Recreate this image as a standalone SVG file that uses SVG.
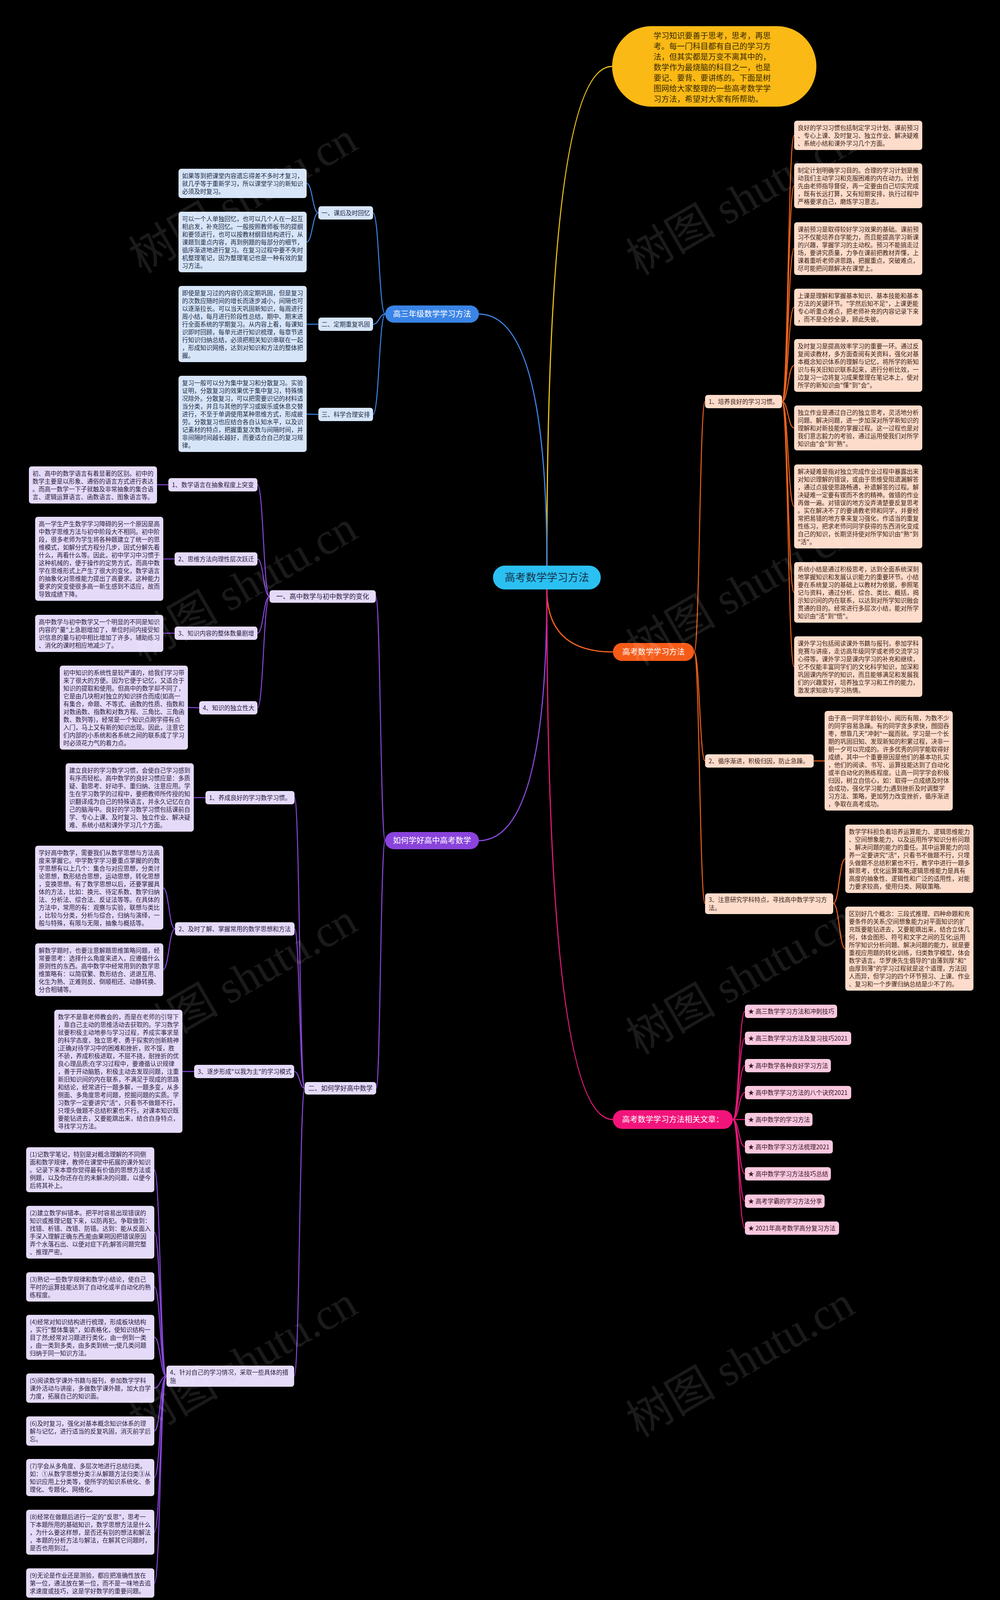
<svg xmlns="http://www.w3.org/2000/svg" width="2560" height="4158" viewBox="0 0 2560 4158">
<style>
text{font-family:"Noto Sans CJK SC","Noto Sans",sans-serif}
.lf{font-size:15.5px}
.sn{font-size:15.5px}
.tb{fill:#1d2b45}.tp{fill:#2b1d40}.to{fill:#3d2417}.tk{fill:#3b1629}
.rb{fill:#d7e5f9}.rp{fill:#e5dbf9}.ro{fill:#fddccb}.rk{fill:#f9c8df}
.cy{fill:none;stroke:#f2c51a;stroke-width:3}
.cb{fill:none;stroke:#3d86e6;stroke-width:2.5}
.cp{fill:none;stroke:#8a48dc;stroke-width:2.5}
.co{fill:none;stroke:#f0641e;stroke-width:2.5}
.ck{fill:none;stroke:#e8197a;stroke-width:2.5}
.main{stroke-width:3}
.br{font-size:20px;fill:#ffffff;text-anchor:middle}
.wm{font-family:"Liberation Serif","Noto Sans CJK SC",serif;font-size:115px;fill:#ffffff;opacity:0.1;text-anchor:middle}
</style>
<rect x="0" y="0" width="2560" height="4158" fill="#000000"/>

<g id="connectors">
<path class="cy main" d="M1400,1448 Q1400,170 1567,170"/>
<path class="cb main" d="M1400,1448 Q1400,804 1226,804"/>
<path class="co main" d="M1400,1509 Q1400,1669 1569,1669"/>
<path class="cp main" d="M1400,1509 Q1400,2152 1226,2152"/>
<path class="ck main" d="M1400,1509 Q1400,2866 1569,2866"/>
<!-- blue -->
<path class="cb" d="M986,804 C970.5,804 970.5,545 955,545"/>
<path class="cb" d="M986,804 C970.5,804 970.5,830 955,830"/>
<path class="cb" d="M986,804 C970.5,804 970.5,1061 955,1061"/>
<path class="cb" d="M815,545 C800,545 800,469.5 785,469.5"/>
<path class="cb" d="M815,545 C800,545 800,619.5 785,619.5"/>
<path class="cb" d="M815,830 L785,830"/>
<path class="cb" d="M815,1061 L785,1060"/>
<!-- purple -->
<path class="cp" d="M986,2152 C974,2152 974,1527 962,1527"/>
<path class="cp" d="M986,2152 C974,2152 974,2786 963,2786"/>
<path class="cp" d="M690,1527 C674.5,1527 674.5,1241 659,1241"/>
<path class="cp" d="M690,1527 C674.5,1527 674.5,1431 659,1431"/>
<path class="cp" d="M690,1527 C674.5,1527 674.5,1621 659,1621"/>
<path class="cp" d="M690,1527 C674.5,1527 674.5,1812 659,1812"/>
<path class="cp" d="M431,1241 L402,1241"/>
<path class="cp" d="M447,1431 L418,1431"/>
<path class="cp" d="M447,1621 L418,1621"/>
<path class="cp" d="M510,1812 L481,1811"/>
<path class="cp" d="M780,2786 C767,2786 767,2042 754,2042"/>
<path class="cp" d="M780,2786 C767,2786 767,2378 754,2378"/>
<path class="cp" d="M780,2786 C767,2786 767,2743 753,2743"/>
<path class="cp" d="M780,2786 C767,2786 767,3523 753,3523"/>
<path class="cp" d="M526,2042 L495,2042"/>
<path class="cp" d="M448,2378 C432.5,2378 432.5,2272.5 417,2272.5"/>
<path class="cp" d="M448,2378 C432.5,2378 432.5,2482.5 417,2482.5"/>
<path class="cp" d="M497,2743 L467,2743"/>
<path class="cp" d="M426,3523 C410.5,3523 410.5,2994.5 395,2994.5"/>
<path class="cp" d="M426,3523 C410.5,3523 410.5,3154.5 395,3154.5"/>
<path class="cp" d="M426,3523 C410.5,3523 410.5,3294.5 395,3294.5"/>
<path class="cp" d="M426,3523 C410.5,3523 410.5,3423.5 395,3423.5"/>
<path class="cp" d="M426,3523 C410.5,3523 410.5,3553.5 395,3553.5"/>
<path class="cp" d="M426,3523 C410.5,3523 410.5,3663.5 395,3663.5"/>
<path class="cp" d="M426,3523 C410.5,3523 410.5,3782.5 395,3782.5"/>
<path class="cp" d="M426,3523 C410.5,3523 410.5,3922.5 395,3922.5"/>
<path class="cp" d="M426,3523 C410.5,3523 410.5,4052.5 395,4052.5"/>
<!-- orange -->
<path class="co" d="M1777,1669 C1791,1669 1791,1028 1805,1028"/>
<path class="co" d="M1777,1669 C1791,1669 1791,1948 1805,1948"/>
<path class="co" d="M1777,1669 C1791,1669 1791,2313 1805,2313"/>
<path class="co" d="M2002,1028 C2017.5,1028 2017.5,346.5 2033,346.5"/>
<path class="co" d="M2002,1028 C2017.5,1028 2017.5,475.5 2033,475.5"/>
<path class="co" d="M2002,1028 C2017.5,1028 2017.5,636.5 2033,636.5"/>
<path class="co" d="M2002,1028 C2017.5,1028 2017.5,786.5 2033,786.5"/>
<path class="co" d="M2002,1028 C2017.5,1028 2017.5,935.5 2033,935.5"/>
<path class="co" d="M2002,1028 C2017.5,1028 2017.5,1095.5 2033,1095.5"/>
<path class="co" d="M2002,1028 C2017.5,1028 2017.5,1296.5 2033,1296.5"/>
<path class="co" d="M2002,1028 C2017.5,1028 2017.5,1516.5 2033,1516.5"/>
<path class="co" d="M2002,1028 C2017.5,1028 2017.5,1706.5 2033,1706.5"/>
<path class="co" d="M2083,1948 L2111,1948"/>
<path class="co" d="M2133,2313 C2148.5,2313 2148.5,2198.5 2164,2198.5"/>
<path class="co" d="M2133,2313 C2148.5,2313 2148.5,2428.5 2164,2428.5"/>
<!-- pink -->
<path class="ck" d="M1876,2866 C1891.5,2866 1891.5,2589 1907,2589"/>
<path class="ck" d="M1876,2866 C1891.5,2866 1891.5,2658 1907,2658"/>
<path class="ck" d="M1876,2866 C1891.5,2866 1891.5,2728 1907,2728"/>
<path class="ck" d="M1876,2866 C1891.5,2866 1891.5,2797 1907,2797"/>
<path class="ck" d="M1876,2866 L1907,2866"/>
<path class="ck" d="M1876,2866 C1891.5,2866 1891.5,2936 1907,2936"/>
<path class="ck" d="M1876,2866 C1891.5,2866 1891.5,3005 1907,3005"/>
<path class="ck" d="M1876,2866 C1891.5,2866 1891.5,3075 1907,3075"/>
<path class="ck" d="M1876,2866 C1891.5,2866 1891.5,3144 1907,3144"/>
</g>

<!-- callout -->
<g id="callout">
<rect x="1567" y="67" width="523" height="206" rx="100" ry="103" fill="#fbb915"/>
<text x="1673" y="99" font-size="20" fill="#3a2c00">
<tspan x="1673" y="99">学习知识要善于思考，思考，再思</tspan>
<tspan x="1673" y="126">考。每一门科目都有自己的学习方</tspan>
<tspan x="1673" y="153">法，但其实都是万变不离其中的，</tspan>
<tspan x="1673" y="180">数学作为最烧脑的科目之一，也是</tspan>
<tspan x="1673" y="207">要记、要背、要讲练的。下面是树</tspan>
<tspan x="1673" y="234">图网给大家整理的一些高考数学学</tspan>
<tspan x="1673" y="261">习方法，希望对大家有所帮助。</tspan>
</text>
</g>

<!-- main node -->
<g id="root">
<rect x="1262" y="1448" width="276" height="61" rx="30.5" fill="#2bc0f2"/>
<text x="1400" y="1488" font-size="27" fill="#17324a" text-anchor="middle">高考数学学习方法</text>
</g>

<!-- branch nodes -->
<g id="n-blue">
<rect x="986" y="782" width="240" height="44" rx="22" fill="#3a84e6"/>
<text class="br" x="1106" y="811">高三年级数学学习方法</text>
</g>
<g id="n-purple">
<rect x="986" y="2130" width="240" height="44" rx="22" fill="#8a43dc"/>
<text class="br" x="1106" y="2159">如何学好高中高考数学</text>
</g>
<g id="n-orange">
<rect x="1569" y="1646" width="208" height="46" rx="23" fill="#f55b18"/>
<text class="br" x="1673" y="1676">高考数学学习方法</text>
</g>
<g id="n-pink">
<rect x="1569" y="2842" width="307" height="48" rx="24" fill="#f3147b"/>
<text class="br" x="1722.5" y="2873">高考数学学习方法相关文章：</text>
</g>

<!-- blue sub nodes -->
<g id="b-s1"><rect class="rb" x="815" y="528" width="140" height="34" rx="7"/><text class="sn tb" x="885" y="550.5" text-anchor="middle">一、课后及时回忆</text></g>
<g id="b-s2"><rect class="rb" x="815" y="813" width="140" height="34" rx="7"/><text class="sn tb" x="885" y="835.5" text-anchor="middle">二、定期重复巩固</text></g>
<g id="b-s3"><rect class="rb" x="815" y="1044" width="140" height="34" rx="7"/><text class="sn tb" x="885" y="1066.5" text-anchor="middle">三、科学合理安排</text></g>

<g id="b-l1"><rect class="rb" x="457" y="432" width="328" height="75" rx="7"/>
<text class="lf tb"><tspan x="466" y="456">如果等到把课堂内容遗忘得差不多时才复习，</tspan><tspan x="466" y="476">就几乎等于重新学习，所以课堂学习的新知识</tspan><tspan x="466" y="496">必须及时复习。</tspan></text></g>
<g id="b-l2"><rect class="rb" x="457" y="542" width="328" height="155" rx="7"/>
<text class="lf tb"><tspan x="466" y="566">可以一个人单独回忆，也可以几个人在一起互</tspan><tspan x="466" y="586">相启发，补充回忆。一般按照教师板书的提纲</tspan><tspan x="466" y="606">和要领进行，也可以按教材纲目结构进行，从</tspan><tspan x="466" y="626">课题到重点内容，再到例题的每部分的细节，</tspan><tspan x="466" y="646">循序渐进地进行复习。在复习过程中要不失时</tspan><tspan x="466" y="666">机整理笔记，因为整理笔记也是一种有效的复</tspan><tspan x="466" y="686">习方法。</tspan></text></g>
<g id="b-l3"><rect class="rb" x="457" y="732" width="328" height="195" rx="7"/>
<text class="lf tb"><tspan x="466" y="756">即使是复习过的内容仍须定期巩固，但是复习</tspan><tspan x="466" y="776">的次数应随时间的增长而逐步减小，间隔也可</tspan><tspan x="466" y="796">以逐渐拉长。可以当天巩固新知识，每周进行</tspan><tspan x="466" y="816">周小结，每月进行阶段性总结，期中、期末进</tspan><tspan x="466" y="836">行全面系统的学期复习。从内容上看，每课知</tspan><tspan x="466" y="856">识即时回顾，每单元进行知识梳理，每章节进</tspan><tspan x="466" y="876">行知识归纳总结，必须把相关知识串联在一起</tspan><tspan x="466" y="896">，形成知识网络，达到对知识和方法的整体把</tspan><tspan x="466" y="916">握。</tspan></text></g>
<g id="b-l4"><rect class="rb" x="457" y="962" width="328" height="195" rx="7"/>
<text class="lf tb"><tspan x="466" y="986">复习一般可以分为集中复习和分散复习。实验</tspan><tspan x="466" y="1006">证明，分散复习的效果优于集中复习，特殊情</tspan><tspan x="466" y="1026">况除外。分散复习，可以把需要识记的材料适</tspan><tspan x="466" y="1046">当分类，并且与其他的学习或娱乐或休息交替</tspan><tspan x="466" y="1066">进行，不至于单调使用某种思维方式，形成疲</tspan><tspan x="466" y="1086">劳。分散复习也应结合各自认知水平，以及识</tspan><tspan x="466" y="1106">记素材的特点，把握重复次数与间隔时间，并</tspan><tspan x="466" y="1126">非间隔时间越长越好，而要适合自己的复习规</tspan><tspan x="466" y="1146">律。</tspan></text></g>

<!-- purple level 2 -->
<g id="p-s1"><rect class="rp" x="690" y="1511" width="272" height="32" rx="7"/><text class="tp" font-size="17" x="826" y="1533" text-anchor="middle">一、高中数学与初中数学的变化</text></g>
<g id="p-s2"><rect class="rp" x="780" y="2770" width="183" height="32" rx="7"/><text class="tp" font-size="16.5" x="871.5" y="2792" text-anchor="middle">二、如何学好高中数学</text></g>

<!-- purple level 3 -->
<g id="p-a1"><rect class="rp" x="431" y="1224" width="228" height="34" rx="7"/><text class="sn tp" x="440" y="1246.5">1、数学语言在抽象程度上突变</text></g>
<g id="p-a2"><rect class="rp" x="447" y="1414" width="212" height="34" rx="7"/><text class="sn tp" x="456" y="1436.5">2、思维方法向理性层次跃迁</text></g>
<g id="p-a3"><rect class="rp" x="447" y="1604" width="212" height="34" rx="7"/><text class="sn tp" x="456" y="1626.5">3、知识内容的整体数量剧增</text></g>
<g id="p-a4"><rect class="rp" x="510" y="1795" width="149" height="34" rx="7"/><text class="sn tp" x="519" y="1817.5">4、知识的独立性大</text></g>
<g id="p-b1"><rect class="rp" x="526" y="2025" width="228" height="34" rx="7"/><text class="sn tp" x="535" y="2047.5">1、养成良好的学习数学习惯。</text></g>
<g id="p-b2"><rect class="rp" x="448" y="2361" width="306" height="34" rx="7"/><text class="sn tp" x="457" y="2383.5">2、及时了解、掌握常用的数学思想和方法</text></g>
<g id="p-b3"><rect class="rp" x="497" y="2726" width="256" height="34" rx="7"/><text class="sn tp" x="506" y="2748.5">3、逐步形成"以我为主"的学习模式</text></g>
<g id="p-b4"><rect class="rp" x="426" y="3496" width="327" height="54" rx="7"/><text class="sn tp"><tspan x="435" y="3519">4、针对自己的学习情况，采取一些具体的措</tspan><tspan x="435" y="3540">施</tspan></text></g>

<!-- purple leaves -->
<g id="p-l1"><rect class="rp" x="74" y="1194" width="328" height="95" rx="7"/>
<text class="lf tp"><tspan x="83" y="1218">初、高中的数学语言有着显著的区别。初中的</tspan><tspan x="83" y="1238">数学主要是以形象、通俗的语言方式进行表达</tspan><tspan x="83" y="1258">。而高一数学一下子就触及非常抽象的集合语</tspan><tspan x="83" y="1278">言、逻辑运算语言、函数语言、图象语言等。</tspan></text></g>
<g id="p-l2"><rect class="rp" x="90" y="1323" width="328" height="215" rx="7"/>
<text class="lf tp"><tspan x="99" y="1347">高一学生产生数学学习障碍的另一个原因是高</tspan><tspan x="99" y="1367">中数学思维方法与初中阶段大不相同。初中阶</tspan><tspan x="99" y="1387">段，很多老师为学生将各种题建立了统一的思</tspan><tspan x="99" y="1407">维模式，如解分式方程分几步，因式分解先看</tspan><tspan x="99" y="1427">什么，再看什么等。因此，初中学习中习惯于</tspan><tspan x="99" y="1447">这种机械的，便于操作的定势方式，而高中数</tspan><tspan x="99" y="1467">学在思维形式上产生了很大的变化，数学语言</tspan><tspan x="99" y="1487">的抽象化对思维能力提出了高要求。这种能力</tspan><tspan x="99" y="1507">要求的突变使很多高一新生感到不适应，故而</tspan><tspan x="99" y="1527">导致成绩下降。</tspan></text></g>
<g id="p-l3"><rect class="rp" x="90" y="1574" width="328" height="95" rx="7"/>
<text class="lf tp"><tspan x="99" y="1598">高中数学与初中数学又一个明显的不同是知识</tspan><tspan x="99" y="1618">内容的"量"上急剧增加了，单位时间内接受知</tspan><tspan x="99" y="1638">识信息的量与初中相比增加了许多，辅助练习</tspan><tspan x="99" y="1658">、消化的课时相应地减少了。</tspan></text></g>
<g id="p-l4"><rect class="rp" x="153" y="1704" width="328" height="215" rx="7"/>
<text class="lf tp"><tspan x="162" y="1728">初中知识的系统性是较严谨的，给我们学习带</tspan><tspan x="162" y="1748">来了很大的方便。因为它便于记忆，又适合于</tspan><tspan x="162" y="1768">知识的提取和使用。但高中的数学却不同了，</tspan><tspan x="162" y="1788">它是由几块相对独立的知识拼合而成(如高一</tspan><tspan x="162" y="1808">有集合，命题、不等式、函数的性质、指数和</tspan><tspan x="162" y="1828">对数函数、指数和对数方程、三角比、三角函</tspan><tspan x="162" y="1848">数、数列等)，经常是一个知识点刚学得有点</tspan><tspan x="162" y="1868">入门，马上又有新的知识出现。因此，注意它</tspan><tspan x="162" y="1888">们内部的小系统和各系统之间的联系成了学习</tspan><tspan x="162" y="1908">时必须花力气的着力点。</tspan></text></g>

<g id="p-m1"><rect class="rp" x="168" y="1954" width="328" height="175" rx="7"/>
<text class="lf tp"><tspan x="177" y="1978">建立良好的学习数学习惯，会使自己学习感到</tspan><tspan x="177" y="1998">有序而轻松。高中数学的良好习惯应是：多质</tspan><tspan x="177" y="2018">疑、勤思考、好动手、重归纳、注意应用。学</tspan><tspan x="177" y="2038">生在学习数学的过程中，要把教师所传授的知</tspan><tspan x="177" y="2058">识翻译成为自己的特殊语言，并永久记忆在自</tspan><tspan x="177" y="2078">己的脑海中。良好的学习数学习惯包括课前自</tspan><tspan x="177" y="2098">学、专心上课、及时复习、独立作业、解决疑</tspan><tspan x="177" y="2118">难、系统小结和课外学习几个方面。</tspan></text></g>
<g id="p-m2"><rect class="rp" x="90" y="2165" width="328" height="215" rx="7"/>
<text class="lf tp"><tspan x="99" y="2189">学好高中数学，需要我们从数学思想与方法高</tspan><tspan x="99" y="2209">度来掌握它。中学数学学习要重点掌握的的数</tspan><tspan x="99" y="2229">学思想有以上几个：集合与对应思想，分类讨</tspan><tspan x="99" y="2249">论思想，数形结合思想，运动思想，转化思想</tspan><tspan x="99" y="2269">，变换思想。有了数学思想以后，还要掌握具</tspan><tspan x="99" y="2289">体的方法，比如：换元、待定系数、数学归纳</tspan><tspan x="99" y="2309">法、分析法、综合法、反证法等等。在具体的</tspan><tspan x="99" y="2329">方法中，常用的有：观察与实验，联想与类比</tspan><tspan x="99" y="2349">，比较与分类，分析与综合，归纳与演绎，一</tspan><tspan x="99" y="2369">般与特殊，有限与无限，抽象与概括等。</tspan></text></g>
<g id="p-m3"><rect class="rp" x="90" y="2415" width="328" height="135" rx="7"/>
<text class="lf tp"><tspan x="99" y="2439">解数学题时，也要注意解题思维策略问题，经</tspan><tspan x="99" y="2459">常要思考：选择什么角度来进入，应遵循什么</tspan><tspan x="99" y="2479">原则性的东西。高中数学中经常用到的数学思</tspan><tspan x="99" y="2499">维策略有：以简驭繁、数形结合、进退互用、</tspan><tspan x="99" y="2519">化生为熟、正难则反、倒顺相还、动静转换、</tspan><tspan x="99" y="2539">分合相辅等。</tspan></text></g>
<g id="p-m4"><rect class="rp" x="139" y="2585" width="328" height="315" rx="7"/>
<text class="lf tp"><tspan x="148" y="2609">数学不是靠老师教会的，而是在老师的引导下</tspan><tspan x="148" y="2629">，靠自己主动的思维活动去获取的。学习数学</tspan><tspan x="148" y="2649">就要积极主动地参与学习过程，养成实事求是</tspan><tspan x="148" y="2669">的科学态度，独立思考、勇于探索的创新精神</tspan><tspan x="148" y="2689">;正确对待学习中的困难和挫折，败不馁，胜</tspan><tspan x="148" y="2709">不骄，养成积极进取，不屈不挠，耐挫折的优</tspan><tspan x="148" y="2729">良心理品质;在学习过程中，要遵循认识规律</tspan><tspan x="148" y="2749">，善于开动脑筋，积极主动去发现问题，注重</tspan><tspan x="148" y="2769">新旧知识间的内在联系，不满足于现成的思路</tspan><tspan x="148" y="2789">和结论，经常进行一题多解，一题多变，从多</tspan><tspan x="148" y="2809">侧面、多角度思考问题，挖掘问题的实质。学</tspan><tspan x="148" y="2829">习数学一定要讲究"活"，只看书不做题不行，</tspan><tspan x="148" y="2849">只埋头做题不总结积累也不行。对课本知识既</tspan><tspan x="148" y="2869">要能钻进去，又要能跳出来，结合自身特点，</tspan><tspan x="148" y="2889">寻找学习方法。</tspan></text></g>

<g id="p-n1"><rect class="rp" x="67" y="2937" width="328" height="115" rx="7"/>
<text class="lf tp"><tspan x="76" y="2961">(1)记数学笔记，特别是对概念理解的不同侧</tspan><tspan x="76" y="2981">面和数学规律，教师在课堂中拓展的课外知识</tspan><tspan x="76" y="3001">。记录下来本章你觉得最有价值的思想方法或</tspan><tspan x="76" y="3021">例题，以及你还存在的未解决的问题，以便今</tspan><tspan x="76" y="3041">后将其补上。</tspan></text></g>
<g id="p-n2"><rect class="rp" x="67" y="3087" width="328" height="135" rx="7"/>
<text class="lf tp"><tspan x="76" y="3111">(2)建立数学纠错本。把平时容易出现错误的</tspan><tspan x="76" y="3131">知识或推理记载下来，以防再犯。争取做到：</tspan><tspan x="76" y="3151">找错、析错、改错、防错。达到：能从反面入</tspan><tspan x="76" y="3171">手深入理解正确东西;能由果朔因把错误原因</tspan><tspan x="76" y="3191">弄个水落石出、以便对症下药;解答问题完整</tspan><tspan x="76" y="3211">、推理严密。</tspan></text></g>
<g id="p-n3"><rect class="rp" x="67" y="3257" width="328" height="75" rx="7"/>
<text class="lf tp"><tspan x="76" y="3281">(3)熟记一些数学规律和数学小结论，使自己</tspan><tspan x="76" y="3301">平时的运算技能达到了自动化或半自动化的熟</tspan><tspan x="76" y="3321">练程度。</tspan></text></g>
<g id="p-n4"><rect class="rp" x="67" y="3366" width="328" height="115" rx="7"/>
<text class="lf tp"><tspan x="76" y="3390">(4)经常对知识结构进行梳理，形成板块结构</tspan><tspan x="76" y="3410">，实行"整体集装"，如表格化，使知识结构一</tspan><tspan x="76" y="3430">目了然;经常对习题进行类化，由一例到一类</tspan><tspan x="76" y="3450">，由一类到多类，由多类到统一;使几类问题</tspan><tspan x="76" y="3470">归纳于同一知识方法。</tspan></text></g>
<g id="p-n5"><rect class="rp" x="67" y="3516" width="328" height="75" rx="7"/>
<text class="lf tp"><tspan x="76" y="3540">(5)阅读数学课外书籍与报刊，参加数学学科</tspan><tspan x="76" y="3560">课外活动与讲座，多做数学课外题，加大自学</tspan><tspan x="76" y="3580">力度，拓展自己的知识面。</tspan></text></g>
<g id="p-n6"><rect class="rp" x="67" y="3626" width="328" height="75" rx="7"/>
<text class="lf tp"><tspan x="76" y="3650">(6)及时复习，强化对基本概念知识体系的理</tspan><tspan x="76" y="3670">解与记忆，进行适当的反复巩固，消灭前学后</tspan><tspan x="76" y="3690">忘。</tspan></text></g>
<g id="p-n7"><rect class="rp" x="67" y="3735" width="328" height="95" rx="7"/>
<text class="lf tp"><tspan x="76" y="3759">(7)学会从多角度、多层次地进行总结归类。</tspan><tspan x="76" y="3779">如：①从数学思想分类②从解题方法归类③从</tspan><tspan x="76" y="3799">知识应用上分类等，使所学的知识系统化、条</tspan><tspan x="76" y="3819">理化、专题化、网络化。</tspan></text></g>
<g id="p-n8"><rect class="rp" x="67" y="3865" width="328" height="115" rx="7"/>
<text class="lf tp"><tspan x="76" y="3889">(8)经常在做题后进行一定的"反思"，思考一</tspan><tspan x="76" y="3909">下本题所用的基础知识，数学思想方法是什么</tspan><tspan x="76" y="3929">，为什么要这样想，是否还有别的想法和解法</tspan><tspan x="76" y="3949">，本题的分析方法与解法，在解其它问题时，</tspan><tspan x="76" y="3969">是否也用到过。</tspan></text></g>
<g id="p-n9"><rect class="rp" x="67" y="4015" width="328" height="75" rx="7"/>
<text class="lf tp"><tspan x="76" y="4039">(9)无论是作业还是测验，都应把准确性放在</tspan><tspan x="76" y="4059">第一位，通法放在第一位，而不是一味地去追</tspan><tspan x="76" y="4079">求速度或技巧，这是学好数学的重要问题。</tspan></text></g>

<!-- orange level 2 -->
<g id="o-s1"><rect class="ro" x="1805" y="1011" width="197" height="34" rx="7"/><text class="sn to" x="1814" y="1033.5">1、培养良好的学习习惯。</text></g>
<g id="o-s2"><rect class="ro" x="1805" y="1931" width="278" height="34" rx="7"/><text class="sn to" x="1814" y="1953.5">2、循序渐进，积极归因，防止急躁。</text></g>
<g id="o-s3"><rect class="ro" x="1805" y="2287" width="328" height="53" rx="7"/><text class="sn to"><tspan x="1814" y="2309">3、注意研究学科特点，寻找高中数学学习方</tspan><tspan x="1814" y="2330">法。</tspan></text></g>

<!-- orange leaves -->
<g id="o-l1"><rect class="ro" x="2033" y="309" width="328" height="75" rx="7"/>
<text class="lf to"><tspan x="2042" y="333">良好的学习习惯包括制定学习计划、课前预习</tspan><tspan x="2042" y="353">、专心上课、及时复习、独立作业、解决疑难</tspan><tspan x="2042" y="373">、系统小结和课外学习几个方面。</tspan></text></g>
<g id="o-l2"><rect class="ro" x="2033" y="418" width="328" height="115" rx="7"/>
<text class="lf to"><tspan x="2042" y="442">制定计划明确学习目的。合理的学习计划是推</tspan><tspan x="2042" y="462">动我们主动学习和克服困难的内在动力。计划</tspan><tspan x="2042" y="482">先由老师指导督促，再一定要由自己切实完成</tspan><tspan x="2042" y="502">，既有长远打算，又有短期安排，执行过程中</tspan><tspan x="2042" y="522">严格要求自己，磨炼学习意志。</tspan></text></g>
<g id="o-l3"><rect class="ro" x="2033" y="569" width="328" height="135" rx="7"/>
<text class="lf to"><tspan x="2042" y="593">课前预习是取得较好学习效果的基础。课前预</tspan><tspan x="2042" y="613">习不仅能培养自学能力，而且能提高学习新课</tspan><tspan x="2042" y="633">的兴趣，掌握学习的主动权。预习不能搞走过</tspan><tspan x="2042" y="653">场，要讲究质量，力争在课前把教材弄懂，上</tspan><tspan x="2042" y="673">课着重听老师讲思路，把握重点，突破难点，</tspan><tspan x="2042" y="693">尽可能把问题解决在课堂上。</tspan></text></g>
<g id="o-l4"><rect class="ro" x="2033" y="739" width="328" height="95" rx="7"/>
<text class="lf to"><tspan x="2042" y="763">上课是理解和掌握基本知识、基本技能和基本</tspan><tspan x="2042" y="783">方法的关键环节。"学然后知不足"，上课更能</tspan><tspan x="2042" y="803">专心听重点难点，把老师补充的内容记录下来</tspan><tspan x="2042" y="823">，而不是全抄全录，顾此失彼。</tspan></text></g>
<g id="o-l5"><rect class="ro" x="2033" y="868" width="328" height="135" rx="7"/>
<text class="lf to"><tspan x="2042" y="892">及时复习是提高效率学习的重要一环。通过反</tspan><tspan x="2042" y="912">复阅读教材，多方面查阅有关资料，强化对基</tspan><tspan x="2042" y="932">本概念知识体系的理解与记忆，将所学的新知</tspan><tspan x="2042" y="952">识与有关旧知识联系起来，进行分析比效，一</tspan><tspan x="2042" y="972">边复习一边将复习成果整理在笔记本上，使对</tspan><tspan x="2042" y="992">所学的新知识由"懂"到"会"。</tspan></text></g>
<g id="o-l6"><rect class="ro" x="2033" y="1038" width="328" height="115" rx="7"/>
<text class="lf to"><tspan x="2042" y="1062">独立作业是通过自己的独立思考，灵活地分析</tspan><tspan x="2042" y="1082">问题、解决问题，进一步加深对所学新知识的</tspan><tspan x="2042" y="1102">理解和对新技能的掌握过程。这一过程也是对</tspan><tspan x="2042" y="1122">我们意志毅力的考验，通过运用使我们对所学</tspan><tspan x="2042" y="1142">知识由"会"到"熟"。</tspan></text></g>
<g id="o-l7"><rect class="ro" x="2033" y="1189" width="328" height="215" rx="7"/>
<text class="lf to"><tspan x="2042" y="1213">解决疑难是指对独立完成作业过程中暴露出来</tspan><tspan x="2042" y="1233">对知识理解的错误，或由于思维受阻遗漏解答</tspan><tspan x="2042" y="1253">，通过点拨使思路畅通，补遗解答的过程。解</tspan><tspan x="2042" y="1273">决疑难一定要有锲而不舍的精神。做错的作业</tspan><tspan x="2042" y="1293">再做一遍。对错误的地方没弄清楚要反复思考</tspan><tspan x="2042" y="1313">。实在解决不了的要请教老师和同学，并要经</tspan><tspan x="2042" y="1333">常把易错的地方拿来复习强化，作适当的重复</tspan><tspan x="2042" y="1353">性练习，把求老师问同学获得的东西消化变成</tspan><tspan x="2042" y="1373">自己的知识，长期坚持使对所学知识由"熟"到</tspan><tspan x="2042" y="1393">"活"。</tspan></text></g>
<g id="o-l8"><rect class="ro" x="2033" y="1439" width="328" height="155" rx="7"/>
<text class="lf to"><tspan x="2042" y="1463">系统小结是通过积极思考，达到全面系统深刻</tspan><tspan x="2042" y="1483">地掌握知识和发展认识能力的重要环节。小结</tspan><tspan x="2042" y="1503">要在系统复习的基础上以教材为依据，参照笔</tspan><tspan x="2042" y="1523">记与资料，通过分析、综合、类比、概括，揭</tspan><tspan x="2042" y="1543">示知识间的内在联系，以达到对所学知识融会</tspan><tspan x="2042" y="1563">贯通的目的。经常进行多层次小结，能对所学</tspan><tspan x="2042" y="1583">知识由"活"到"悟"。</tspan></text></g>
<g id="o-l9"><rect class="ro" x="2033" y="1629" width="328" height="155" rx="7"/>
<text class="lf to"><tspan x="2042" y="1653">课外学习包括阅读课外书籍与报刊，参加学科</tspan><tspan x="2042" y="1673">竞赛与讲座，走访高年级同学或老师交流学习</tspan><tspan x="2042" y="1693">心得等。课外学习是课内学习的补充和继续，</tspan><tspan x="2042" y="1713">它不仅能丰富同学们的文化科学知识，加深和</tspan><tspan x="2042" y="1733">巩固课内所学的知识，而且能够满足和发展我</tspan><tspan x="2042" y="1753">们的兴趣爱好，培养独立学习和工作的能力，</tspan><tspan x="2042" y="1773">激发求知欲与学习热情。</tspan></text></g>
<g id="o-l10"><rect class="ro" x="2111" y="1820" width="328" height="255" rx="7"/>
<text class="lf to"><tspan x="2120" y="1844">由于高一同学年龄较小，阅历有限，为数不少</tspan><tspan x="2120" y="1864">的同学容易急躁。有的同学贪多求快，囫囵吞</tspan><tspan x="2120" y="1884">枣，想靠几天"冲刺"一蹴而就。学习是一个长</tspan><tspan x="2120" y="1904">期的巩固旧知、发现新知的积累过程，决非一</tspan><tspan x="2120" y="1924">朝一夕可以完成的。许多优秀的同学能取得好</tspan><tspan x="2120" y="1944">成绩，其中一个重要原因是他们的基本功扎实</tspan><tspan x="2120" y="1964">，他们的阅读、书写、运算技能达到了自动化</tspan><tspan x="2120" y="1984">或半自动化的熟练程度。让高一同学学会积极</tspan><tspan x="2120" y="2004">归因，树立自信心，如：取得一点成绩及时体</tspan><tspan x="2120" y="2024">会成功，强化学习能力;遇到挫折及时调整学</tspan><tspan x="2120" y="2044">习方法、策略，更加努力改变挫折，循序渐进</tspan><tspan x="2120" y="2064">，争取在高考成功。</tspan></text></g>
<g id="o-l11"><rect class="ro" x="2164" y="2111" width="328" height="175" rx="7"/>
<text class="lf to"><tspan x="2173" y="2135">数学学科担负着培养运算能力、逻辑思维能力</tspan><tspan x="2173" y="2155">、空间想象能力，以及运用所学知识分析问题</tspan><tspan x="2173" y="2175">、解决问题的能力的重任。其中运算能力的培</tspan><tspan x="2173" y="2195">养一定要讲究"活"，只看书不做题不行，只埋</tspan><tspan x="2173" y="2215">头做题不总结积累也不行，教学中进行一题多</tspan><tspan x="2173" y="2235">解思考，优化运算策略;逻辑思维能力是具有</tspan><tspan x="2173" y="2255">高度的抽象性、逻辑性和广泛的适用性，对能</tspan><tspan x="2173" y="2275">力要求较高，使用归类、网联策略.</tspan></text></g>
<g id="o-l12"><rect class="ro" x="2164" y="2321" width="328" height="215" rx="7"/>
<text class="lf to"><tspan x="2173" y="2345">区别好几个概念：三段式推理、四种命题和充</tspan><tspan x="2173" y="2365">要条件的关系;空间想象能力对平面知识的扩</tspan><tspan x="2173" y="2385">充既要能钻进去，又要能跳出来，结合立体几</tspan><tspan x="2173" y="2405">何，体会图形、符号和文字之间的互化;运用</tspan><tspan x="2173" y="2425">所学知识分析问题、解决问题的能力，就是要</tspan><tspan x="2173" y="2445">重视应用题的转化训练，归类数学模型，体会</tspan><tspan x="2173" y="2465">数学语言。华罗庚先生倡导的"由薄到厚"和"</tspan><tspan x="2173" y="2485">由厚到薄"的学习过程就是这个道理，方法因</tspan><tspan x="2173" y="2505">人而异，但学习的四个环节预习、上课、作业</tspan><tspan x="2173" y="2525">、复习和一个步骤归纳总结是少不了的。</tspan></text></g>

<!-- pink items -->
<g id="k1"><rect class="rk" x="1907" y="2572" width="236" height="34" rx="7"/><text class="sn tk" x="1915" y="2595">★ 高三数学学习方法和冲刺技巧</text></g>
<g id="k2"><rect class="rk" x="1907" y="2641" width="272" height="34" rx="7"/><text class="sn tk" x="1915" y="2664">★ 高三数学学习方法及复习技巧2021</text></g>
<g id="k3"><rect class="rk" x="1907" y="2711" width="220" height="34" rx="7"/><text class="sn tk" x="1915" y="2734">★ 高中数学各种良好学习方法</text></g>
<g id="k4"><rect class="rk" x="1907" y="2780" width="272" height="34" rx="7"/><text class="sn tk" x="1915" y="2803">★ 高中数学学习方法的八个诀窍2021</text></g>
<g id="k5"><rect class="rk" x="1907" y="2849" width="173" height="34" rx="7"/><text class="sn tk" x="1915" y="2872">★ 高中数学的学习方法</text></g>
<g id="k6"><rect class="rk" x="1907" y="2919" width="225" height="34" rx="7"/><text class="sn tk" x="1915" y="2942">★ 高中数学学习方法梳理2021</text></g>
<g id="k7"><rect class="rk" x="1907" y="2988" width="220" height="34" rx="7"/><text class="sn tk" x="1915" y="3011">★ 高中数学学习方法技巧总结</text></g>
<g id="k8"><rect class="rk" x="1907" y="3058" width="204" height="34" rx="7"/><text class="sn tk" x="1915" y="3081">★ 高考学霸的学习方法分享</text></g>
<g id="k9"><rect class="rk" x="1907" y="3127" width="241" height="34" rx="7"/><text class="sn tk" x="1915" y="3150">★ 2021年高考数学高分复习方法</text></g>

<!-- watermarks -->
<g id="watermark">
<text class="wm" transform="translate(642,540) rotate(-30)">树图 shutu.cn</text>
<text class="wm" transform="translate(1915,545) rotate(-30)">树图 shutu.cn</text>
<text class="wm" transform="translate(642,1535) rotate(-30)">树图 shutu.cn</text>
<text class="wm" transform="translate(1915,1545) rotate(-30)">树图 shutu.cn</text>
<text class="wm" transform="translate(642,2540) rotate(-30)">树图 shutu.cn</text>
<text class="wm" transform="translate(1915,2540) rotate(-30)">树图 shutu.cn</text>
<text class="wm" transform="translate(642,3520) rotate(-30)">树图 shutu.cn</text>
<text class="wm" transform="translate(1915,3520) rotate(-30)">树图 shutu.cn</text>
</g>
</svg>
